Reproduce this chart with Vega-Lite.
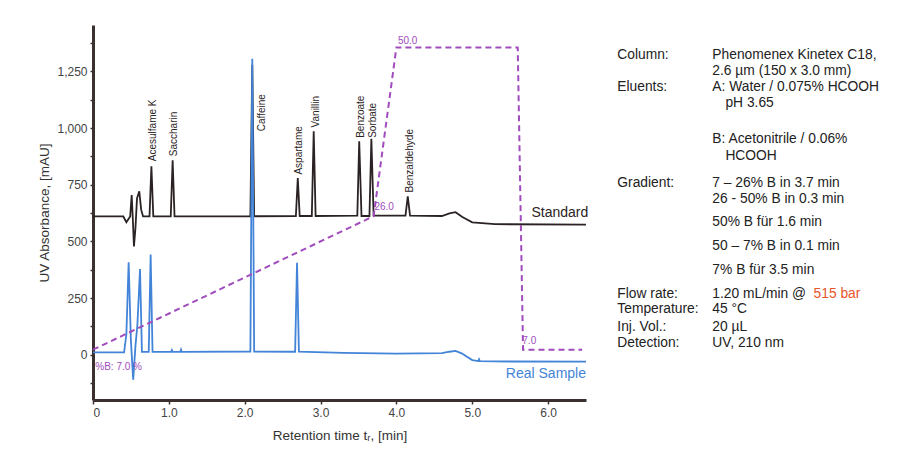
{
  "$schema": "https://vega.github.io/schema/vega-lite/v6.json",
  "width": 493,
  "height": 375,
  "autosize": {"type": "none"},
  "padding": {"left": 93, "top": 25, "right": 329, "bottom": 59},
  "background": "white",
  "config": {
    "view": {"stroke": null},
    "font": "Liberation Sans",
    "axis": {
      "domainColor": "#3a3030", "domainWidth": 3, "tickColor": "#3a3030", "tickWidth": 1.5, "tickSize": 4,
      "labelColor": "#444444", "labelFontSize": 12, "labelFont": "Liberation Sans", "labelOverlap": false,
      "titleColor": "#333333", "titleFontSize": 13.5, "titleFont": "Liberation Sans", "titleFontWeight": "normal", "grid": false
    }
  },
  "datasets": {
    "traces": [
      {"s": "Standard", "t": 0, "v": 610}, {"s": "Standard", "t": 0.4, "v": 610}, {"s": "Standard", "t": 0.44, "v": 585},
      {"s": "Standard", "t": 0.47, "v": 600}, {"s": "Standard", "t": 0.49, "v": 610}, {"s": "Standard", "t": 0.51, "v": 705},
      {"s": "Standard", "t": 0.525, "v": 600}, {"s": "Standard", "t": 0.54, "v": 478}, {"s": "Standard", "t": 0.56, "v": 560},
      {"s": "Standard", "t": 0.58, "v": 690}, {"s": "Standard", "t": 0.61, "v": 721}, {"s": "Standard", "t": 0.635, "v": 640},
      {"s": "Standard", "t": 0.66, "v": 610}, {"s": "Standard", "t": 0.745, "v": 610}, {"s": "Standard", "t": 0.77, "v": 832},
      {"s": "Standard", "t": 0.795, "v": 610}, {"s": "Standard", "t": 1.025, "v": 610}, {"s": "Standard", "t": 1.05, "v": 858},
      {"s": "Standard", "t": 1.075, "v": 610}, {"s": "Standard", "t": 2.075, "v": 611}, {"s": "Standard", "t": 2.1, "v": 1280},
      {"s": "Standard", "t": 2.125, "v": 611}, {"s": "Standard", "t": 2.675, "v": 612}, {"s": "Standard", "t": 2.7, "v": 780},
      {"s": "Standard", "t": 2.725, "v": 612}, {"s": "Standard", "t": 2.885, "v": 612}, {"s": "Standard", "t": 2.91, "v": 986},
      {"s": "Standard", "t": 2.935, "v": 612}, {"s": "Standard", "t": 3.485, "v": 614}, {"s": "Standard", "t": 3.51, "v": 942},
      {"s": "Standard", "t": 3.54, "v": 612}, {"s": "Standard", "t": 3.645, "v": 612}, {"s": "Standard", "t": 3.67, "v": 953},
      {"s": "Standard", "t": 3.7, "v": 614}, {"s": "Standard", "t": 4.12, "v": 614}, {"s": "Standard", "t": 4.15, "v": 699},
      {"s": "Standard", "t": 4.18, "v": 614}, {"s": "Standard", "t": 4.6, "v": 612}, {"s": "Standard", "t": 4.7, "v": 624},
      {"s": "Standard", "t": 4.78, "v": 629}, {"s": "Standard", "t": 4.87, "v": 608}, {"s": "Standard", "t": 5.0, "v": 584},
      {"s": "Standard", "t": 5.3, "v": 576}, {"s": "Standard", "t": 6.5, "v": 574},
      {"s": "Real Sample", "t": 0, "v": 10}, {"s": "Real Sample", "t": 0.41, "v": 10}, {"s": "Real Sample", "t": 0.44, "v": 90},
      {"s": "Real Sample", "t": 0.47, "v": 408}, {"s": "Real Sample", "t": 0.5, "v": 60}, {"s": "Real Sample", "t": 0.53, "v": -110},
      {"s": "Real Sample", "t": 0.56, "v": 40}, {"s": "Real Sample", "t": 0.585, "v": 130}, {"s": "Real Sample", "t": 0.62, "v": 378},
      {"s": "Real Sample", "t": 0.645, "v": 12}, {"s": "Real Sample", "t": 0.735, "v": 12}, {"s": "Real Sample", "t": 0.76, "v": 442},
      {"s": "Real Sample", "t": 0.785, "v": 12}, {"s": "Real Sample", "t": 1.03, "v": 12}, {"s": "Real Sample", "t": 1.04, "v": 20},
      {"s": "Real Sample", "t": 1.05, "v": 12}, {"s": "Real Sample", "t": 1.15, "v": 12}, {"s": "Real Sample", "t": 1.16, "v": 22},
      {"s": "Real Sample", "t": 1.17, "v": 12}, {"s": "Real Sample", "t": 2.075, "v": 14}, {"s": "Real Sample", "t": 2.1, "v": 1306},
      {"s": "Real Sample", "t": 2.125, "v": 14}, {"s": "Real Sample", "t": 2.665, "v": 13}, {"s": "Real Sample", "t": 2.69, "v": 406},
      {"s": "Real Sample", "t": 2.715, "v": 13}, {"s": "Real Sample", "t": 3.3, "v": 8}, {"s": "Real Sample", "t": 4.0, "v": 5},
      {"s": "Real Sample", "t": 4.6, "v": 7}, {"s": "Real Sample", "t": 4.7, "v": 13}, {"s": "Real Sample", "t": 4.78, "v": 17},
      {"s": "Real Sample", "t": 4.86, "v": 6}, {"s": "Real Sample", "t": 5.0, "v": -24}, {"s": "Real Sample", "t": 5.08, "v": -28},
      {"s": "Real Sample", "t": 5.09, "v": -20}, {"s": "Real Sample", "t": 5.1, "v": -28}, {"s": "Real Sample", "t": 5.5, "v": -30},
      {"s": "Real Sample", "t": 6.5, "v": -31}
    ],
    "gradient": [
      {"t": 0, "b": 7}, {"t": 3.7, "b": 26}, {"t": 4.0, "b": 50}, {"t": 5.6, "b": 50}, {"t": 5.67, "b": 7}, {"t": 6.45, "b": 7}
    ],
    "gradLabels": [
      {"t": 4.02, "b": 50.9, "lab": "50.0"},
      {"t": 3.71, "b": 27.3, "lab": "26.0"},
      {"t": 5.66, "b": 8.3, "lab": "7.0"},
      {"t": 0.03, "b": 4.5, "lab": "%B: 7.0 %"}
    ],
    "peaks": [
      {"t": 0.785, "v": 854, "lab": "Acesulfame K"},
      {"t": 1.07, "v": 876, "lab": "Saccharin"},
      {"t": 2.23, "v": 986, "lab": "Caffeine"},
      {"t": 2.71, "v": 795, "lab": "Aspartame"},
      {"t": 2.935, "v": 1003, "lab": "Vanillin"},
      {"t": 3.54, "v": 957, "lab": "Benzoate"},
      {"t": 3.69, "v": 957, "lab": "Sorbate"},
      {"t": 4.18, "v": 716, "lab": "Benzaldehyde"}
    ],
    "seriesLabels": [
      {"t": 6.53, "v": 627, "lab": "Standard", "s": "Standard"},
      {"t": 6.5, "v": -84, "lab": "Real Sample", "s": "Real Sample"}
    ],
    "minorY": [
      {"t": 0, "m": -125}, {"t": 0, "m": 1375}
    ],
    "info": [
      {"t": 6.913, "v": 1322, "lab": "Column:", "c": "n"},
      {"t": 8.166, "v": 1322, "lab": "Phenomenex Kinetex C18,", "c": "n"},
      {"t": 8.166, "v": 1254, "lab": "2.6 µm (150 x 3.0 mm)", "c": "n"},
      {"t": 6.913, "v": 1180, "lab": "Eluents:", "c": "n"},
      {"t": 8.166, "v": 1180, "lab": "A: Water / 0.075% HCOOH", "c": "n"},
      {"t": 8.338, "v": 1110, "lab": "pH 3.65", "c": "n"},
      {"t": 8.166, "v": 952, "lab": "B: Acetonitrile / 0.06%", "c": "n"},
      {"t": 8.338, "v": 877, "lab": "HCOOH", "c": "n"},
      {"t": 6.913, "v": 758, "lab": "Gradient:", "c": "n"},
      {"t": 8.166, "v": 758, "lab": "7 – 26% B in 3.7 min", "c": "n"},
      {"t": 8.166, "v": 687, "lab": "26 - 50% B in 0.3 min", "c": "n"},
      {"t": 8.166, "v": 587, "lab": "50% B für 1.6 min", "c": "n"},
      {"t": 8.166, "v": 481, "lab": "50 – 7% B in 0.1 min", "c": "n"},
      {"t": 8.166, "v": 375, "lab": "7% B für 3.5 min", "c": "n"},
      {"t": 6.913, "v": 269, "lab": "Flow rate:", "c": "n"},
      {"t": 8.166, "v": 269, "lab": "1.20 mL/min @", "c": "n"},
      {"t": 9.5, "v": 269, "lab": "515 bar", "c": "r"},
      {"t": 6.913, "v": 203, "lab": "Temperature:", "c": "n"},
      {"t": 8.166, "v": 203, "lab": "45 °C", "c": "n"},
      {"t": 6.913, "v": 124, "lab": "Inj. Vol.:", "c": "n"},
      {"t": 8.166, "v": 124, "lab": "20 µL", "c": "n"},
      {"t": 6.913, "v": 53, "lab": "Detection:", "c": "n"},
      {"t": 8.166, "v": 53, "lab": "UV, 210 nm", "c": "n"}
    ]
  },
  "layer": [
    {
      "layer": [
        {
          "data": {"name": "traces"},
          "mark": {"type": "line", "strokeWidth": 1.8, "clip": true},
          "encoding": {
            "x": {
              "field": "t", "type": "quantitative",
              "scale": {"domain": [0, 6.5], "nice": false, "zero": false},
              "axis": {
                "title": "Retention time tᵣ, [min]",
                "values": [0, 0.5, 1, 1.5, 2, 2.5, 3, 3.5, 4, 4.5, 5, 5.5, 6, 6.5],
                "labelExpr": "datum.value % 1 == 0 ? (datum.value == 0 ? '0' : format(datum.value, '.1f')) : ''",
                "labelPadding": 3, "titlePadding": 10
              }
            },
            "y": {
              "field": "v", "type": "quantitative",
              "scale": {"domain": [-200, 1455], "nice": false, "zero": false},
              "axis": {
                "title": "UV Absorbance, [mAU]",
                "values": [0, 250, 500, 750, 1000, 1250],
                "format": ",.0f",
                "tickSize": 3, "labelPadding": 3, "titlePadding": 5
              }
            },
            "color": {
              "field": "s", "type": "nominal",
              "scale": {"domain": ["Standard", "Real Sample"], "range": ["#2b2323", "#4384d8"]},
              "legend": null
            }
          }
        },
        {
          "data": {"name": "peaks"},
          "mark": {"type": "text", "angle": 270, "align": "left", "baseline": "middle", "fontSize": 10, "color": "#2b2323"},
          "encoding": {
            "x": {"field": "t", "type": "quantitative", "scale": {"domain": [0, 6.5], "nice": false, "zero": false}},
            "y": {"field": "v", "type": "quantitative", "scale": {"domain": [-200, 1455], "nice": false, "zero": false}},
            "text": {"field": "lab"}
          }
        },
        {
          "data": {"name": "seriesLabels"},
          "mark": {"type": "text", "align": "right", "baseline": "middle", "fontSize": 14},
          "encoding": {
            "x": {"field": "t", "type": "quantitative", "scale": {"domain": [0, 6.5], "nice": false, "zero": false}},
            "y": {"field": "v", "type": "quantitative", "scale": {"domain": [-200, 1455], "nice": false, "zero": false}},
            "text": {"field": "lab"},
            "color": {"field": "s", "type": "nominal", "legend": null}
          }
        },
        {
          "data": {"name": "info"},
          "transform": [{"filter": "datum.c == 'n'"}],
          "mark": {"type": "text", "align": "left", "baseline": "middle", "fontSize": 13.8, "color": "#222222"},
          "encoding": {
            "x": {"field": "t", "type": "quantitative", "scale": {"domain": [0, 6.5], "nice": false, "zero": false}},
            "y": {"field": "v", "type": "quantitative", "scale": {"domain": [-200, 1455], "nice": false, "zero": false}},
            "text": {"field": "lab"}
          }
        },
        {
          "data": {"name": "info"},
          "transform": [{"filter": "datum.c == 'r'"}],
          "mark": {"type": "text", "align": "left", "baseline": "middle", "fontSize": 13.8, "color": "#e8532b"},
          "encoding": {
            "x": {"field": "t", "type": "quantitative", "scale": {"domain": [0, 6.5], "nice": false, "zero": false}},
            "y": {"field": "v", "type": "quantitative", "scale": {"domain": [-200, 1455], "nice": false, "zero": false}},
            "text": {"field": "lab"}
          }
        }
      ]
    },
    {
      "layer": [
        {
          "data": {"name": "gradient"},
          "mark": {"type": "line", "strokeWidth": 2, "strokeDash": [6, 4], "color": "#a04cbc"},
          "encoding": {
            "x": {"field": "t", "type": "quantitative", "scale": {"domain": [0, 6.5], "nice": false, "zero": false}},
            "y": {"field": "b", "type": "quantitative", "scale": {"domain": [-0.16, 53.2], "nice": false, "zero": false}, "axis": null}
          }
        },
        {
          "data": {"name": "gradLabels"},
          "mark": {"type": "text", "align": "left", "baseline": "middle", "fontSize": 10, "color": "#a04cbc"},
          "encoding": {
            "x": {"field": "t", "type": "quantitative", "scale": {"domain": [0, 6.5], "nice": false, "zero": false}},
            "y": {"field": "b", "type": "quantitative", "scale": {"domain": [-0.16, 53.2], "nice": false, "zero": false}, "axis": null},
            "text": {"field": "lab"}
          }
        }
      ]
    },
    {
      "data": {"name": "minorY"},
      "mark": {"type": "point", "opacity": 0},
      "encoding": {
        "x": {"field": "t", "type": "quantitative", "scale": {"domain": [0, 6.5], "nice": false, "zero": false}},
        "y": {
          "field": "m", "type": "quantitative",
          "scale": {"domain": [-200, 1455], "nice": false, "zero": false},
          "axis": {"orient": "left", "values": [-125, 125, 375, 625, 875, 1125, 1375], "labels": false, "title": null, "domain": false, "tickSize": 3}
        }
      }
    }
  ],
  "resolve": {"scale": {"y": "independent"}}
}
